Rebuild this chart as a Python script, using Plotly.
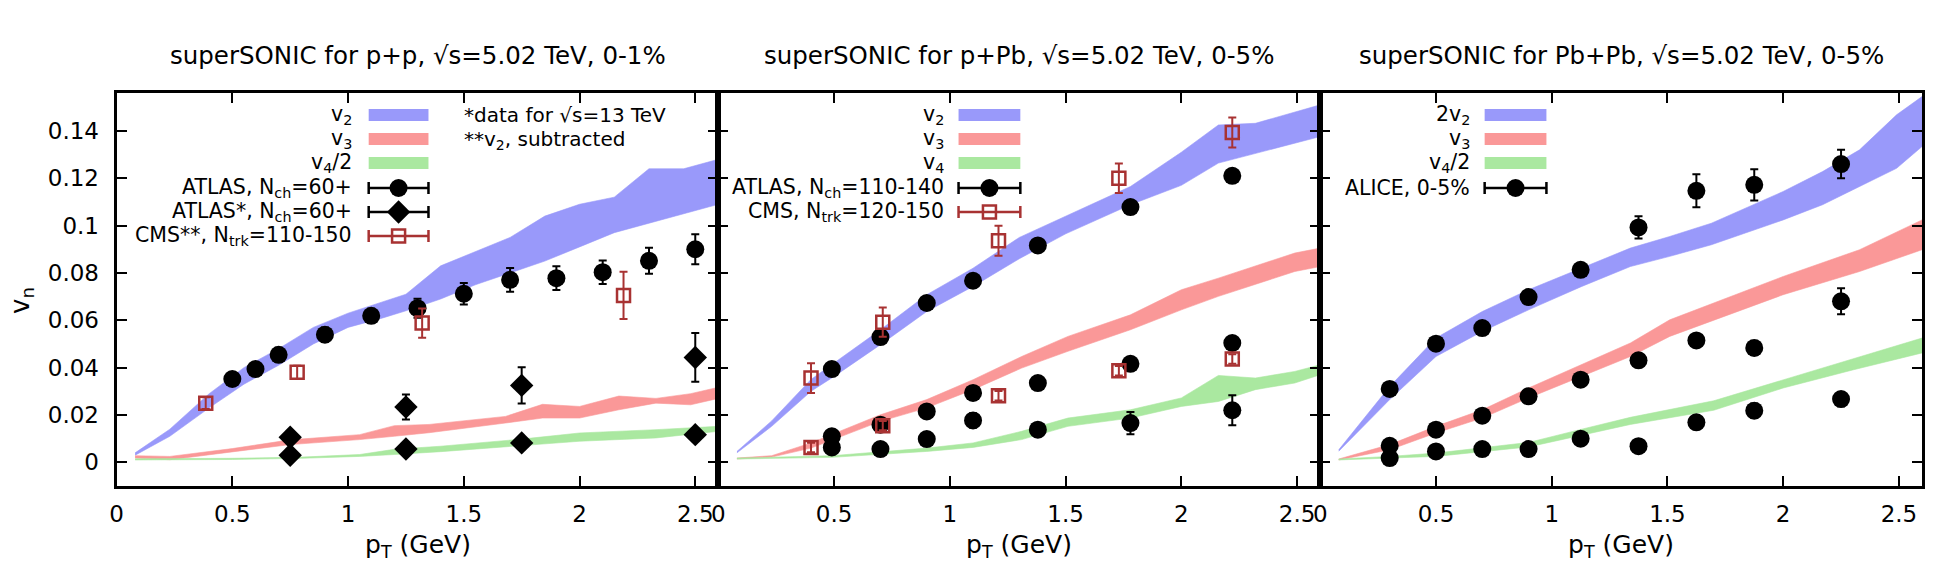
import plotly.graph_objects as go

# ---------------- data: panel 1, p+p ----------------
pp_v2_pt = [0.08, 0.23, 0.4, 0.55, 0.7, 0.85, 1.0, 1.15, 1.25, 1.4, 1.55, 1.7, 1.85, 2.0, 2.15, 2.3, 2.45, 2.6]
pp_v2_hi = [0.004, 0.014, 0.029, 0.040, 0.048, 0.057, 0.063, 0.068, 0.071, 0.083, 0.089, 0.095, 0.104, 0.109, 0.112, 0.124, 0.124, 0.128]
pp_v2_lo = [0.003, 0.011, 0.023, 0.033, 0.041, 0.050, 0.057, 0.061, 0.064, 0.069, 0.075, 0.080, 0.085, 0.091, 0.097, 0.101, 0.105, 0.109]
pp_v3_pt = [0.08, 0.23, 0.5, 0.75, 1.05, 1.2, 1.35, 1.68, 1.84, 2.0, 2.17, 2.33, 2.48, 2.6]
pp_v3_hi = [0.0028, 0.0025, 0.0058, 0.0095, 0.0117, 0.0155, 0.016, 0.0194, 0.0245, 0.0236, 0.028, 0.027, 0.029, 0.0317]
pp_v3_lo = [0.0018, 0.0011, 0.0045, 0.0075, 0.0096, 0.011, 0.0125, 0.0166, 0.0187, 0.0187, 0.0222, 0.025, 0.0243, 0.027]
pp_v4_pt = [0.08, 0.5, 0.8, 1.05, 1.2, 1.4, 1.75, 2.0, 2.33, 2.6]
pp_v4_hi = [0.0015, 0.0017, 0.0022, 0.0033, 0.0055, 0.0068, 0.0098, 0.0124, 0.0138, 0.0152]
pp_v4_lo = [0.0010, 0.0012, 0.0017, 0.0025, 0.0033, 0.0045, 0.0070, 0.0089, 0.0103, 0.0131]

pp_atlas_pt = [0.50, 0.60, 0.70, 0.90, 1.10, 1.30, 1.50, 1.70, 1.90, 2.10, 2.30, 2.50]
pp_atlas_v2 = [0.0352, 0.0394, 0.0454, 0.0539, 0.0619, 0.0651, 0.0712, 0.0771, 0.0778, 0.0803, 0.0851, 0.0900]
pp_atlas_v2_err = [0.0025, 0.0025, 0.003, 0.003, 0.003, 0.004, 0.0045, 0.005, 0.005, 0.005, 0.0055, 0.0063]
pp_atlas13_pt = [0.75, 1.25, 1.75, 2.50]
pp_atlas13_v3 = [0.0106, 0.0234, 0.0325, 0.0443]
pp_atlas13_v3_err = [0.002, 0.0053, 0.0077, 0.0103]
pp_atlas13_v4h = [0.0030, 0.0056, 0.0082, 0.0117]
pp_atlas13_v4h_err = [0.001, 0.001, 0.0012, 0.0015]
pp_cms_pt = [0.385, 0.78, 1.32, 2.19]
pp_cms_v2 = [0.0250, 0.0380, 0.0588, 0.0705]
pp_cms_v2_err = [0.0025, 0.0028, 0.0062, 0.0100]

# ---------------- data: panel 2, p+Pb ----------------
ppb_v2_pt = [0.08, 0.23, 0.4, 0.5, 0.7, 0.9, 1.1, 1.3, 1.5, 1.78, 2.0, 2.16, 2.32, 2.49, 2.6]
ppb_v2_hi = [0.0046, 0.0175, 0.035, 0.042, 0.056, 0.0708, 0.082, 0.095, 0.104, 0.1165, 0.131, 0.1425, 0.1432, 0.148, 0.151]
ppb_v2_lo = [0.0040, 0.0152, 0.030, 0.0363, 0.0497, 0.0637, 0.0743, 0.086, 0.0965, 0.1088, 0.117, 0.1264, 0.1306, 0.1348, 0.1376]
ppb_v3_pt = [0.08, 0.23, 0.4, 0.7, 0.9, 1.1, 1.31, 1.51, 1.78, 2.0, 2.16, 2.49, 2.6]
ppb_v3_hi = [0.0018, 0.0028, 0.0082, 0.0201, 0.0265, 0.0349, 0.0447, 0.0532, 0.0623, 0.0729, 0.0778, 0.0884, 0.0905]
ppb_v3_lo = [0.0014, 0.0022, 0.006, 0.0173, 0.023, 0.0307, 0.0398, 0.0469, 0.056, 0.0644, 0.0701, 0.0806, 0.0827]
ppb_v4_pt = [0.08, 0.49, 0.9, 1.1, 1.31, 1.51, 1.78, 2.0, 2.16, 2.32, 2.49, 2.6]
ppb_v4_hi = [0.0018, 0.0028, 0.006, 0.0082, 0.0131, 0.0187, 0.0222, 0.0272, 0.0367, 0.0356, 0.0384, 0.0412]
ppb_v4_lo = [0.0014, 0.0021, 0.0046, 0.0063, 0.0096, 0.0152, 0.0187, 0.0236, 0.0257, 0.0307, 0.0335, 0.037]

ppb_atlas_pt = [0.49, 0.70, 0.90, 1.10, 1.38, 1.78, 2.22]
ppb_atlas_v2 = [0.0394, 0.0529, 0.0673, 0.0767, 0.0916, 0.1078, 0.1210]
ppb_atlas_v2_err = [0.001, 0.001, 0.001, 0.001, 0.001, 0.001, 0.001]
ppb_atlas_v3 = [0.0110, 0.0159, 0.0215, 0.0293, 0.0335, 0.0416, 0.0504]
ppb_atlas_v3_err = [0.001, 0.001, 0.001, 0.001, 0.001, 0.0012, 0.0015]
ppb_atlas_v4 = [0.0063, 0.0056, 0.0098, 0.0177, 0.0138, 0.0166, 0.0220]
ppb_atlas_v4_err = [0.001, 0.001, 0.0012, 0.003, 0.0015, 0.0047, 0.0063]
ppb_cms_pt = [0.40, 0.71, 1.21, 1.73, 2.22]
ppb_cms_v2 = [0.0356, 0.0592, 0.0936, 0.1200, 0.1393]
ppb_cms_v2_err = [0.0063, 0.0062, 0.0063, 0.0062, 0.0063]
ppb_cms_v3 = [0.0063, 0.0155, 0.0281, 0.0387, 0.0436]
ppb_cms_v3_err = [0.002, 0.002, 0.002, 0.002, 0.002]

# ---------------- data: panel 3, Pb+Pb ----------------
pbpb_v2_pt = [0.08, 0.3, 0.5, 0.7, 0.9, 1.13, 1.34, 1.51, 1.69, 2.0, 2.17, 2.33, 2.49, 2.6]
pbpb_v2_hi = [0.0053, 0.032, 0.0525, 0.0637, 0.0729, 0.082, 0.0905, 0.0954, 0.101, 0.1144, 0.1228, 0.132, 0.1468, 0.1545]
pbpb_v2_lo = [0.0047, 0.0265, 0.0447, 0.0553, 0.0644, 0.0743, 0.0827, 0.087, 0.0919, 0.1024, 0.1088, 0.1165, 0.1242, 0.1334]
pbpb_v3_pt = [0.08, 0.3, 0.5, 0.7, 0.9, 1.13, 1.34, 1.51, 2.0, 2.33, 2.6]
pbpb_v3_hi = [0.0014, 0.0075, 0.0152, 0.0222, 0.0314, 0.0412, 0.0504, 0.0602, 0.0785, 0.0898, 0.1024]
pbpb_v3_lo = [0.0010, 0.0053, 0.0124, 0.0187, 0.0272, 0.0363, 0.0447, 0.0532, 0.0708, 0.0806, 0.0898]
pbpb_v4_pt = [0.08, 0.3, 0.5, 0.7, 0.9, 1.13, 1.34, 1.7, 2.0, 2.3, 2.6]
pbpb_v4_hi = [0.0014, 0.0025, 0.0039, 0.006, 0.0084, 0.014, 0.019, 0.026, 0.0349, 0.0435, 0.0525]
pbpb_v4_lo = [0.0010, 0.0018, 0.0025, 0.0045, 0.0065, 0.0115, 0.016, 0.022, 0.0314, 0.039, 0.0462]

alice_pt = [0.30, 0.50, 0.70, 0.90, 1.125, 1.375, 1.625, 1.875, 2.25]
alice_2v2 = [0.0310, 0.0501, 0.0567, 0.0698, 0.0813, 0.0992, 0.1147, 0.1172, 0.1260]
alice_2v2_err = [0.001, 0.001, 0.001, 0.0012, 0.0015, 0.0047, 0.0070, 0.0066, 0.0060]
alice_v3 = [0.0070, 0.0138, 0.0197, 0.0279, 0.0349, 0.0431, 0.0515, 0.0483, 0.0680]
alice_v3_err = [0.001, 0.001, 0.001, 0.001, 0.0012, 0.0015, 0.002, 0.003, 0.0055]
alice_v4h = [0.0018, 0.0046, 0.0056, 0.0056, 0.0100, 0.0068, 0.0169, 0.0218, 0.0267]
alice_v4h_err = [0.001, 0.001, 0.001, 0.001, 0.001, 0.001, 0.0015, 0.003, 0.003]

# ---------------- text ----------------
titles = ["superSONIC for p+p, √s=5.02 TeV, 0-1%",
          "superSONIC for p+Pb, √s=5.02 TeV, 0-5%",
          "superSONIC for Pb+Pb, √s=5.02 TeV, 0-5%"]
y_tickvals = [0, 0.02, 0.04, 0.06, 0.08, 0.10, 0.12, 0.14]
y_ticktext = ["0", "0.02", "0.04", "0.06", "0.08", "0.1", "0.12", "0.14"]
x_tickvals = [0, 0.5, 1, 1.5, 2, 2.5]
x_ticktext = ["0", "0.5", "1", "1.5", "2", "2.5"]

# ---------------- style ----------------
W, H = 1940, 585
FONT = "DejaVu Sans"
BLUE = "rgb(153,153,250)"
RED = "rgb(250,152,152)"
GREEN = "rgb(170,232,160)"
CMSC = "#a83232"
panel_px = [(110, 714), (714, 1318), (1318, 1922)]
top_px, bot_px = 93, 486

fig = go.Figure()


def band(ax, pt, hi, lo, color):
    fig.add_trace(go.Scatter(
        x=pt + pt[::-1], y=hi + lo[::-1], mode="lines", fill="toself",
        fillcolor=color, line=dict(width=0.6, color=color),
        xaxis="x" + ax, yaxis="y" + ax, hoverinfo="skip", showlegend=False))


def marker_style(kind):
    if kind == "circle":
        return dict(symbol="circle", size=18, color="black"), "black"
    if kind == "diamond":
        return dict(symbol="diamond", size=18, color="black"), "black"
    return dict(symbol="square-open", size=13, color=CMSC, line=dict(width=2.5, color=CMSC)), CMSC


def points(ax, pt, v, err, kind):
    mk, ec = marker_style(kind)
    fig.add_trace(go.Scatter(
        x=pt, y=v, mode="markers", marker=mk,
        error_y=dict(type="data", array=err, color=ec, thickness=2, width=4),
        xaxis="x" + ax, yaxis="y" + ax, showlegend=False))


# panel 1
band("", pp_v2_pt, pp_v2_hi, pp_v2_lo, BLUE)
band("", pp_v3_pt, pp_v3_hi, pp_v3_lo, RED)
band("", pp_v4_pt, pp_v4_hi, pp_v4_lo, GREEN)
points("", pp_atlas_pt, pp_atlas_v2, pp_atlas_v2_err, "circle")
points("", pp_atlas13_pt, pp_atlas13_v3, pp_atlas13_v3_err, "diamond")
points("", pp_atlas13_pt, pp_atlas13_v4h, pp_atlas13_v4h_err, "diamond")
points("", pp_cms_pt, pp_cms_v2, pp_cms_v2_err, "square")

# panel 2
band("2", ppb_v2_pt, ppb_v2_hi, ppb_v2_lo, BLUE)
band("2", ppb_v3_pt, ppb_v3_hi, ppb_v3_lo, RED)
band("2", ppb_v4_pt, ppb_v4_hi, ppb_v4_lo, GREEN)
points("2", ppb_atlas_pt, ppb_atlas_v2, ppb_atlas_v2_err, "circle")
points("2", ppb_atlas_pt, ppb_atlas_v3, ppb_atlas_v3_err, "circle")
points("2", ppb_atlas_pt, ppb_atlas_v4, ppb_atlas_v4_err, "circle")
points("2", ppb_cms_pt, ppb_cms_v2, ppb_cms_v2_err, "square")
points("2", ppb_cms_pt, ppb_cms_v3, ppb_cms_v3_err, "square")

# panel 3
band("3", pbpb_v2_pt, pbpb_v2_hi, pbpb_v2_lo, BLUE)
band("3", pbpb_v3_pt, pbpb_v3_hi, pbpb_v3_lo, RED)
band("3", pbpb_v4_pt, pbpb_v4_hi, pbpb_v4_lo, GREEN)
points("3", alice_pt, alice_2v2, alice_2v2_err, "circle")
points("3", alice_pt, alice_v3, alice_v3_err, "circle")
points("3", alice_pt, alice_v4h, alice_v4h_err, "circle")

# ---------------- legends (drawn manually, gnuplot style) ----------------
legends = [
    (348, 363, 423, [("v<sub>2</sub>", "band", BLUE, 115),
                     ("v<sub>3</sub>", "band", RED, 139),
                     ("v<sub>4</sub>/2", "band", GREEN, 163),
                     ("ATLAS, N<sub>ch</sub>=60+", "circle", "black", 188),
                     ("ATLAS*, N<sub>ch</sub>=60+", "diamond", "black", 212),
                     ("CMS**, N<sub>trk</sub>=110-150", "square", CMSC, 236)]),
    (942, 955, 1017, [("v<sub>2</sub>", "band", BLUE, 115),
                      ("v<sub>3</sub>", "band", RED, 139),
                      ("v<sub>4</sub>", "band", GREEN, 163),
                      ("ATLAS, N<sub>ch</sub>=110-140", "circle", "black", 188),
                      ("CMS, N<sub>trk</sub>=120-150", "square", CMSC, 212)]),
    (1470, 1483, 1545, [("2v<sub>2</sub>", "band", BLUE, 115),
                        ("v<sub>3</sub>", "band", RED, 139),
                        ("v<sub>4</sub>/2", "band", GREEN, 163),
                        ("ALICE, 0-5%", "circle", "black", 188)]),
]

shapes = []
annotations = []
for tx, sx0, sx1, rows in legends:
    for text, kind, col, yc in rows:
        annotations.append(dict(text=text, x=tx / W, y=1 - yc / H, xref="paper", yref="paper",
                                xanchor="right", yanchor="middle", showarrow=False,
                                font=dict(family=FONT, size=20.5, color="black")))
        if kind == "band":
            shapes.append(dict(type="rect", xref="paper", yref="paper",
                               x0=sx0 / W, x1=sx1 / W, y0=1 - (yc + 6) / H, y1=1 - (yc - 6) / H,
                               fillcolor=col, line=dict(width=0), layer="above"))
        else:
            mk, ec = marker_style(kind)
            fig.add_trace(go.Scatter(
                x=[(sx0 + sx1) / 2], y=[yc], mode="markers", marker=mk,
                error_x=dict(type="constant", value=(sx1 - sx0) / 2, color=ec, thickness=2.5, width=6),
                xaxis="x4", yaxis="y4", showlegend=False, hoverinfo="skip"))

# extra notes panel 1
for text, yc in [("*data for √s=13 TeV", 115), ("**v<sub>2</sub>, subtracted", 140)]:
    annotations.append(dict(text=text, x=457 / W, y=1 - yc / H, xref="paper", yref="paper",
                            xanchor="left", yanchor="middle", showarrow=False,
                            font=dict(family=FONT, size=20, color="black")))

# titles and axis labels
for i, (x0, x1) in enumerate(panel_px):
    annotations.append(dict(text=titles[i], x=(x0 + x1) / 2 / W, y=1 - 56 / H, xref="paper", yref="paper",
                            xanchor="center", yanchor="middle", showarrow=False,
                            font=dict(family=FONT, size=24.5, color="black")))
    annotations.append(dict(text="p<sub>T</sub> (GeV)", x=(x0 + x1) / 2 / W, y=1 - 546 / H,
                            xref="paper", yref="paper", xanchor="center", yanchor="middle",
                            showarrow=False, font=dict(family=FONT, size=25, color="black")))
annotations.append(dict(text="v<sub>n</sub>", x=14 / W, y=1 - 300 / H, xref="paper", yref="paper",
                        xanchor="center", yanchor="middle", textangle=-90, showarrow=False,
                        font=dict(family=FONT, size=26, color="black")))

ydom = [1 - bot_px / H, 1 - top_px / H]
axis_common = dict(showline=True, linewidth=3, linecolor="black", mirror="ticks",
                   ticks="inside", ticklen=10, tickwidth=2, tickcolor="black",
                   showgrid=False, zeroline=False,
                   tickfont=dict(family=FONT, size=23, color="black"))

layout = dict(
    width=W, height=H, margin=dict(l=0, r=0, t=0, b=0),
    paper_bgcolor="white", plot_bgcolor="rgba(0,0,0,0)",
    font=dict(family=FONT, size=20, color="black"),
    shapes=shapes, annotations=annotations,
    xaxis4=dict(domain=[0, 1], range=[0, W], visible=False, anchor="y4", fixedrange=True),
    yaxis4=dict(domain=[0, 1], range=[H, 0], visible=False, anchor="x4", fixedrange=True),
)
for i, (x0, x1) in enumerate(panel_px):
    sfx = "" if i == 0 else str(i + 1)
    layout["xaxis" + sfx] = dict(axis_common, domain=[x0 / W, x1 / W], range=[0, 2.6],
                                 tickvals=x_tickvals, ticktext=x_ticktext,
                                 anchor="y" + sfx, ticklabelstandoff=5)
    layout["yaxis" + sfx] = dict(axis_common, domain=ydom, range=[-0.01, 0.156],
                                 tickvals=y_tickvals, ticktext=y_ticktext,
                                 anchor="x" + sfx, showticklabels=(i == 0), ticklabelstandoff=10)

fig.update_layout(**layout)
fig.write_html("out.html")
